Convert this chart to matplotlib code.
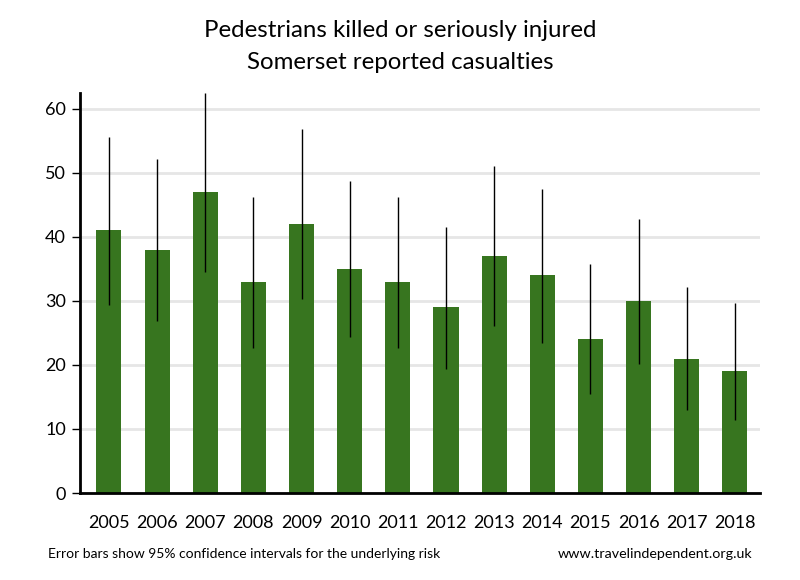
import matplotlib.pyplot as plt
import numpy as np

plt.rcParams['font.family'] = ['Lato', 'DejaVu Sans']

# Datos: victimas por año e intervalos de confianza del 95%
anios = ['2005', '2006', '2007', '2008', '2009', '2010', '2011',
         '2012', '2013', '2014', '2015', '2016', '2017', '2018']
victimas = [41, 38, 47, 33, 42, 35, 33, 29, 37, 34, 24, 30, 21, 19]
ic_inferior = [29.4, 26.9, 34.5, 22.7, 30.3, 24.4, 22.7, 19.4, 26.1, 23.5, 15.4, 20.2, 13.0, 11.4]
ic_superior = [55.6, 52.2, 62.5, 46.3, 56.8, 48.7, 46.3, 41.6, 51.0, 47.5, 35.7, 42.8, 32.1, 29.7]

x = np.arange(len(anios))
v = np.array(victimas)
err = [v - np.array(ic_inferior), np.array(ic_superior) - v]

fig = plt.figure(figsize=(8, 5.8), dpi=100)
ax = fig.add_axes([0.1, 0.15, 0.85, 0.69])

ax.bar(x, victimas, width=0.52, color='#37751f', zorder=2)
ax.errorbar(x, victimas, yerr=err, fmt='none', ecolor='black', elinewidth=1, capsize=0, zorder=3)

ax.set_xlim(-0.6, 13.52)
ax.set_ylim(0, 62.5)
ax.set_yticks([0, 10, 20, 30, 40, 50, 60])
ax.set_xticks(x)
ax.set_xticklabels(anios)
ax.yaxis.grid(True, color='#e6e6e6', linewidth=2, zorder=0)
ax.set_axisbelow(True)
for s in ['top', 'right']:
    ax.spines[s].set_visible(False)
ax.spines['left'].set_linewidth(2)
ax.spines['bottom'].set_linewidth(2)
ax.tick_params(axis='x', length=0, pad=16, labelsize=13)
ax.tick_params(axis='y', length=6, width=1, labelsize=13, pad=4)

fig.text(0.5, 0.947, 'Pedestrians killed or seriously injured', ha='center', va='center', fontsize=17.3)
fig.text(0.5, 0.893, 'Somerset reported casualties', ha='center', va='center', fontsize=17.3)
fig.text(0.06, 0.045, 'Error bars show 95% confidence intervals for the underlying risk', ha='left', va='center', fontsize=10)
fig.text(0.94, 0.045, 'www.travelindependent.org.uk', ha='right', va='center', fontsize=10.3)

plt.savefig('out.png')
